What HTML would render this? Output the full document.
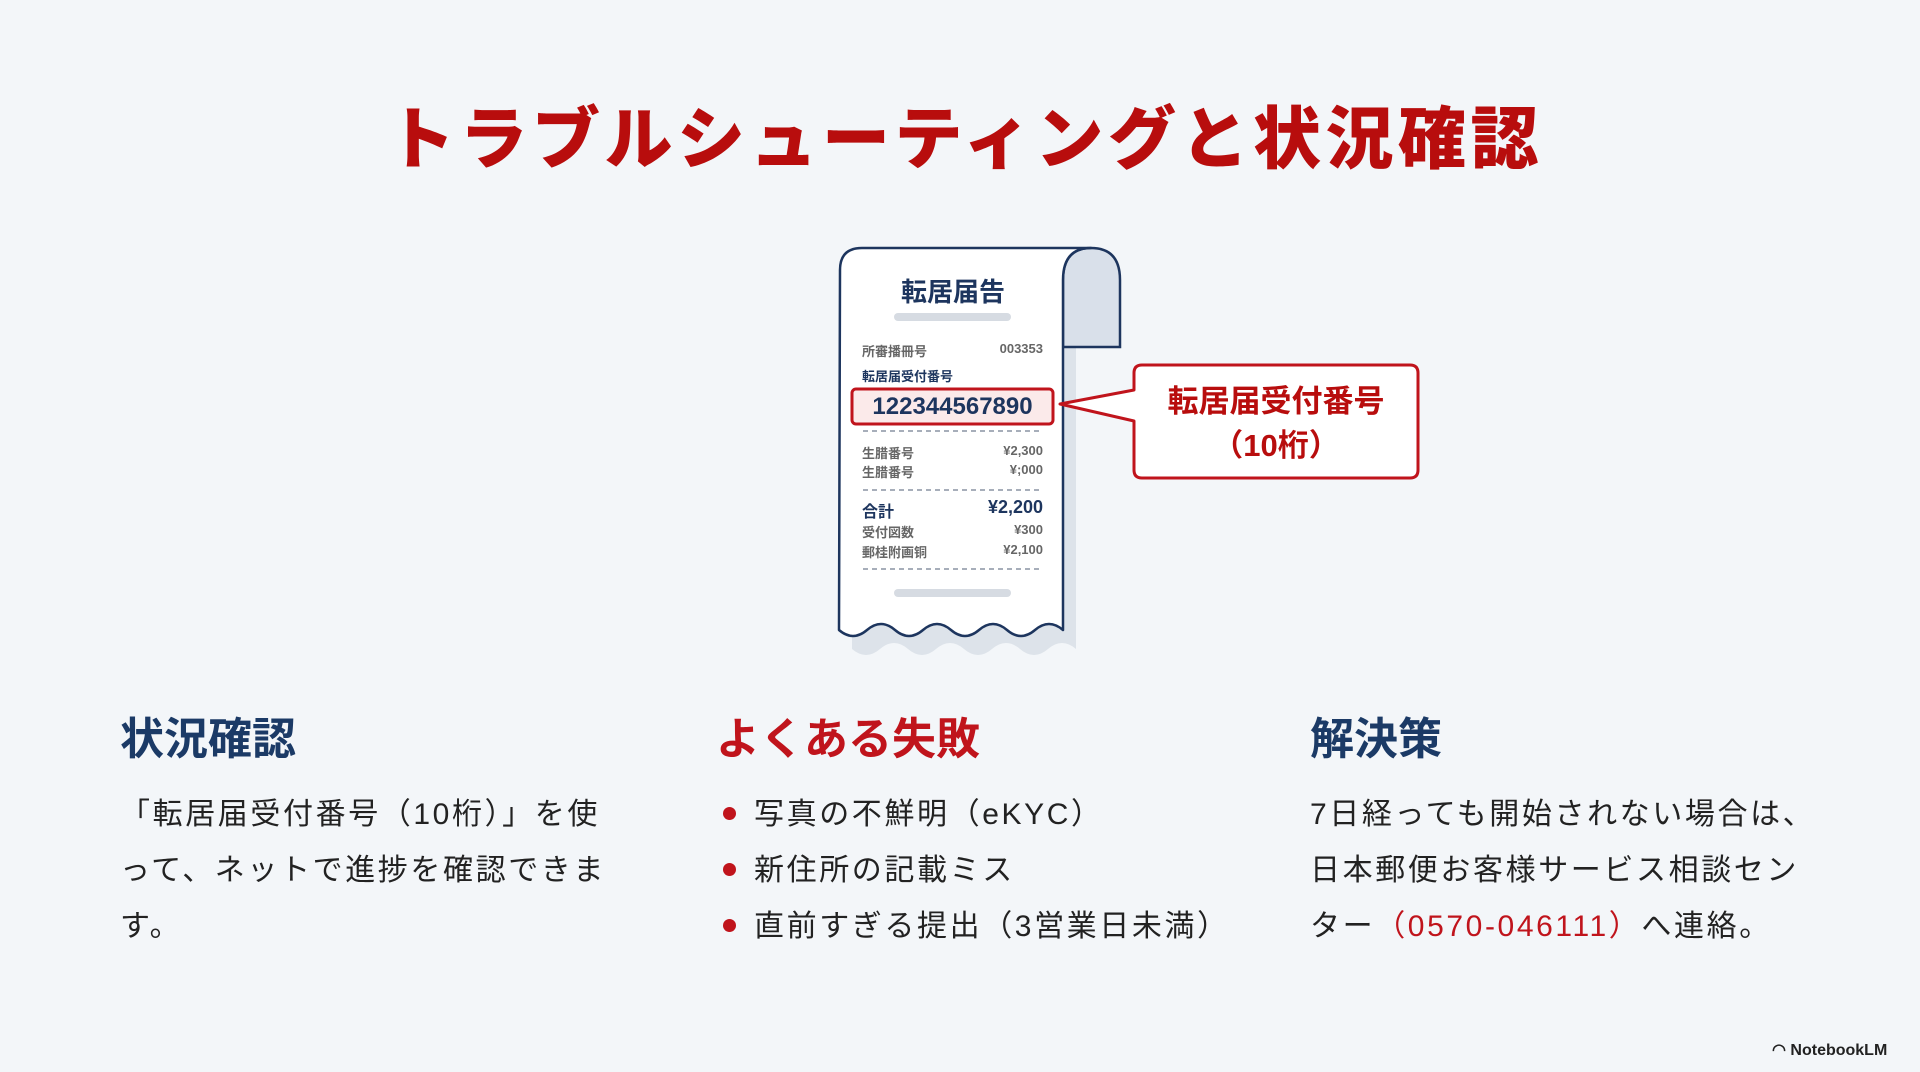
<!DOCTYPE html>
<html><head><meta charset="utf-8"><style>
*{margin:0;padding:0;box-sizing:border-box}
body{width:1920px;height:1072px;background:#f3f6f9;position:relative;overflow:hidden;font-family:"Liberation Sans","Noto Sans CJK JP",sans-serif;}
.abs{position:absolute;white-space:nowrap}
.title{left:0;width:1930px;text-align:center;top:96px;font-size:68px;font-weight:900;color:#b80d0d;line-height:88px;letter-spacing:4.5px}
.h{font-size:44px;font-weight:700;top:710px;line-height:60px}
.navy{color:#1b3a66}.red{color:#c0141c}
.body{font-size:30px;color:#222;line-height:56px;top:787px;letter-spacing:2.6px}
.dot{display:inline-block;width:13px;height:13px;border-radius:50%;background:#c0141c;margin-right:18px;vertical-align:middle;position:relative;top:-3px}
.r{font-size:13px;color:#666;font-weight:600}
</style></head><body>
<div class="abs title">トラブルシューティングと状況確認</div>

<svg class="abs" style="left:0;top:0" width="1920" height="1072">
  <path d="M852 262 h224 v387 q-14 -12 -28 0 q-14 12 -28 0 q-14 -12 -28 0 q-14 12 -28 0 q-14 -12 -28 0 q-14 12 -28 0 q-14 -12 -28 0 q-14 12 -28 0 z" fill="#dde3ea"/>
  <path d="M1063 280 q0 -32 28 -32 q29 0 29 32 v67 h-57 z" fill="#d9e0ea" stroke="#1d355e" stroke-width="2.5"/>
  <path d="M840 270 q0 -22 22 -22 h229 q-28 0 -28 32 v350 q-14 -12 -28 0 q-14 12 -28 0 q-14 -12 -28 0 q-14 12 -28 0 q-14 -12 -28 0 q-14 12 -28 0 q-14 -12 -28 0 q-14 12 -28 0 z" fill="#fff" stroke="#1d355e" stroke-width="2.5" stroke-linejoin="round"/>
  <rect x="894" y="313" width="117" height="8" rx="4" fill="#d6dbe2"/>
  <rect x="894" y="589" width="117" height="8" rx="4" fill="#d6dbe2"/>
  <g stroke="#8a94a3" stroke-width="1.5" stroke-dasharray="5 4">
    <line x1="863" y1="431" x2="1043" y2="431"/>
    <line x1="863" y1="490" x2="1043" y2="490"/>
    <line x1="863" y1="569" x2="1043" y2="569"/>
  </g>
  <rect x="852" y="389" width="201" height="35" rx="4" fill="#fbeaea" stroke="#c0141c" stroke-width="3"/>
  <path d="M1142 365 h268 q8 0 8 8 v97 q0 8 -8 8 h-268 q-8 0 -8 -8 v-49 l-74 -17 l74 -14 v-17 q0 -8 8 -8 z" fill="#fff" stroke="#c0141c" stroke-width="3" stroke-linejoin="round"/>
</svg>

<div class="abs" style="left:840px;width:226px;text-align:center;top:272px;font-size:26px;font-weight:700;color:#1d355e">転居届告</div>
<div class="abs r" style="left:862px;top:341px">所審播冊号</div>
<div class="abs r" style="left:994px;top:341px;width:49px;text-align:right">003353</div>
<div class="abs r" style="left:862px;top:366px;color:#1d355e;font-weight:700">転居届受付番号</div>
<div class="abs" style="left:852px;width:201px;text-align:center;top:390px;font-size:24px;font-weight:700;color:#1d355e;line-height:34px">122344567890</div>
<div class="abs r" style="left:862px;top:443px">生腊番号</div>
<div class="abs r" style="left:990px;top:443px;width:53px;text-align:right">¥2,300</div>
<div class="abs r" style="left:862px;top:462px">生腊番号</div>
<div class="abs r" style="left:990px;top:462px;width:53px;text-align:right">¥;000</div>
<div class="abs" style="left:862px;top:498px;font-size:16px;font-weight:700;color:#1d355e">合計</div>
<div class="abs" style="left:963px;top:497px;width:80px;text-align:right;font-size:18px;font-weight:700;color:#1d355e">¥2,200</div>
<div class="abs r" style="left:862px;top:522px">受付図数</div>
<div class="abs r" style="left:990px;top:522px;width:53px;text-align:right">¥300</div>
<div class="abs r" style="left:862px;top:542px">郵桂附画铜</div>
<div class="abs r" style="left:990px;top:542px;width:53px;text-align:right">¥2,100</div>

<div class="abs" style="left:1134px;width:284px;text-align:center;top:380px;font-size:31px;font-weight:700;color:#b80d0d;line-height:44px">転居届受付番号<br>（10桁）</div>

<div class="abs h navy" style="left:120px">状況確認</div>
<div class="abs h red" style="left:716px">よくある失敗</div>
<div class="abs h navy" style="left:1310px">解決策</div>

<div class="abs body" style="left:120px">「転居届受付番号（10桁）」を使<br>って、ネットで進捗を確認できま<br>す。</div>
<div class="abs body" style="left:723px"><span class="dot"></span>写真の不鮮明（eKYC）<br><span class="dot"></span>新住所の記載ミス<br><span class="dot"></span>直前すぎる提出（3営業日未満）</div>
<div class="abs body" style="left:1310px">7日経っても開始されない場合は、<br>日本郵便お客様サービス相談セン<br>ター<span style="color:#c0141c">（0570-046111）</span>へ連絡。</div>

<div class="abs" style="left:1772px;top:1040px;font-size:16px;font-weight:700;color:#222">◠ NotebookLM</div>
</body></html>
